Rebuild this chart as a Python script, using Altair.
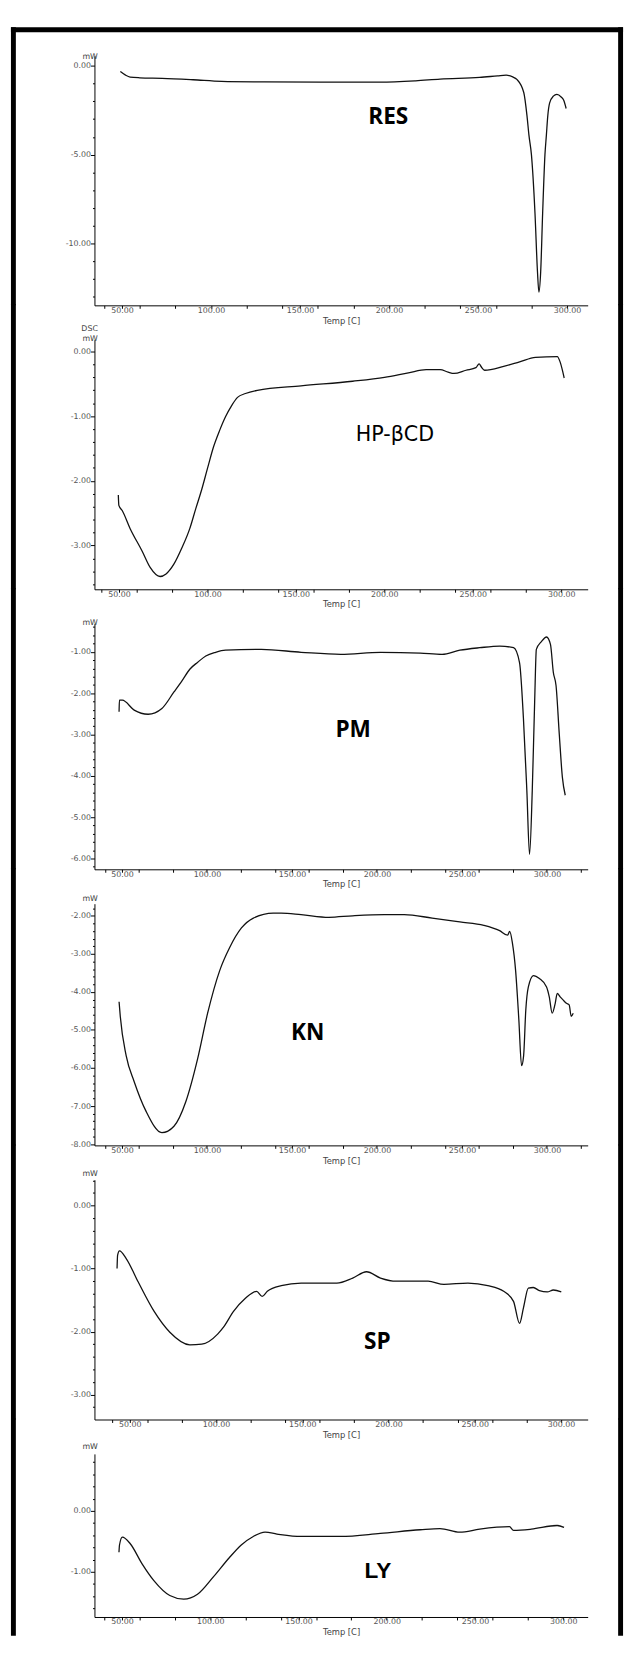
import math
import altair as alt
import pandas as pd

# ---------------- data ----------------
RES_T = [49.1, 52.0, 54.6, 60.0, 72.5, 90.0, 106.0, 130.0, 161.8, 195.1, 215.0, 228.7,
         250.9, 261.0, 265.8, 269.5, 271.8, 275.7, 277.5, 278.6, 280.0, 282.0, 283.4,
         284.2, 285.2, 286.3, 287.6, 288.4, 289.2, 290.2, 292.3, 294.3, 296.7, 298.2, 299.5]
RES_V = [-0.32, -0.52, -0.63, -0.67, -0.70, -0.78, -0.87, -0.90, -0.92, -0.92, -0.84, -0.74,
         -0.65, -0.56, -0.52, -0.62, -0.76, -1.50, -2.80, -3.90, -5.00, -8.30, -11.60,
         -12.75, -11.60, -8.30, -5.00, -3.90, -2.80, -2.10, -1.70, -1.60, -1.75, -1.95, -2.40]

HP_T = [49.6, 49.9, 51.8, 56.3, 63.1, 67.6, 73.2, 76.6, 81.0, 85.5, 90.0, 93.4, 96.8, 100.1,
        103.5, 106.9, 110.2, 113.6, 117.0, 121.5, 128.2, 152.9, 182.1, 200.1, 213.6, 223.7,
        231.6, 236.1, 239.4, 246.2, 251.8, 253.6, 254.9, 256.7, 267.5, 276.5, 285.5, 297.8,
        299.4, 300.8, 301.7]
HP_V = [-2.22, -2.38, -2.46, -2.74, -3.09, -3.34, -3.48, -3.44, -3.29, -3.04, -2.74, -2.43,
        -2.13, -1.80, -1.47, -1.22, -1.01, -0.84, -0.71, -0.65, -0.60, -0.53, -0.46, -0.40,
        -0.33, -0.28, -0.28, -0.32, -0.34, -0.29, -0.25, -0.19, -0.24, -0.29, -0.23, -0.16,
        -0.09, -0.08, -0.16, -0.30, -0.41]

PM_T = [48.3, 48.5, 50.2, 57.2, 65.4, 73.5, 80.6, 85.3, 89.9, 94.6, 99.3, 105.1, 110.9,
        132.0, 155.4, 178.7, 202.1, 225.5, 238.3, 248.8, 260.5, 272.3, 280.4, 283.9, 286.2,
        288.2, 289.8, 291.4, 292.8, 293.8, 296.8, 299.8, 302.1, 303.8, 305.4, 307.3, 309.1,
        310.8]
PM_V = [-2.45, -2.17, -2.17, -2.41, -2.51, -2.37, -1.97, -1.70, -1.42, -1.25, -1.10, -1.01,
        -0.96, -0.94, -1.01, -1.06, -1.01, -1.03, -1.06, -0.96, -0.90, -0.86, -0.90, -1.26,
        -2.61, -4.35, -5.90, -4.35, -2.21, -0.94, -0.75, -0.64, -0.82, -1.50, -1.82, -3.00,
        -4.03, -4.47]

KN_T = [48.3, 49.0, 52.5, 57.2, 64.2, 73.5, 80.6, 87.6, 94.5, 100.4, 107.5, 113.3, 120.3,
        127.3, 139.0, 143.7, 155.4, 171.7, 185.7, 204.3, 216.1, 232.5, 248.8, 262.9, 272.2,
        276.9, 278.1, 279.7, 281.6, 283.5, 285.1, 286.3, 287.6, 289.1, 292.1, 295.6, 299.8,
        301.4, 303.1, 304.9, 306.1, 307.8, 309.5, 311.5, 313.1, 314.3, 315.5]
KN_V = [-4.26, -4.64, -5.68, -6.36, -7.14, -7.70, -7.53, -6.88, -5.76, -4.56, -3.44, -2.84,
        -2.32, -2.06, -1.93, -1.93, -1.97, -2.04, -2.00, -1.97, -1.97, -2.06, -2.16, -2.25,
        -2.39, -2.51, -2.41, -2.71, -3.44, -4.73, -5.94, -5.68, -4.47, -3.87, -3.57, -3.65,
        -3.87, -4.13, -4.56, -4.30, -4.04, -4.13, -4.21, -4.30, -4.34, -4.64, -4.56]

SP_T = [42.6, 42.9, 44.0, 47.9, 54.8, 64.1, 73.2, 84.8, 91.7, 100.9, 104.3, 110.1, 117.0,
        123.5, 126.7, 129.7, 137.8, 149.3, 170.0, 179.2, 187.2, 195.3, 204.5, 222.9, 232.1,
        246.0, 257.5, 266.7, 272.4, 275.9, 278.2, 281.0, 283.9, 287.4, 292.0, 295.5, 300.1]
SP_V = [-1.00, -0.79, -0.72, -0.84, -1.21, -1.68, -2.01, -2.21, -2.20, -2.04, -1.93, -1.68,
        -1.47, -1.36, -1.44, -1.36, -1.27, -1.23, -1.23, -1.15, -1.05, -1.15, -1.20, -1.20,
        -1.25, -1.23, -1.27, -1.36, -1.52, -1.87, -1.62, -1.31, -1.30, -1.35, -1.37, -1.34,
        -1.37]

LY_T = [48.3, 48.6, 50.2, 54.7, 61.4, 68.2, 77.1, 85.0, 92.8, 101.9, 110.8, 117.6, 124.4,
        131.1, 137.8, 151.4, 173.9, 196.4, 219.0, 230.2, 241.4, 252.7, 269.6, 271.9, 282.0,
        296.6, 300.5]
LY_V = [-0.68, -0.56, -0.43, -0.54, -0.87, -1.15, -1.39, -1.45, -1.37, -1.08, -0.77, -0.56,
        -0.42, -0.35, -0.38, -0.42, -0.42, -0.37, -0.31, -0.29, -0.35, -0.30, -0.26, -0.32,
        -0.30, -0.24, -0.27]

NAMES = ["RES", "HP-\u03b2CD", "PM", "KN", "SP", "LY"]
SERIES = [(RES_T, RES_V), (HP_T, HP_V), (PM_T, PM_V), (KN_T, KN_V), (SP_T, SP_V), (LY_T, LY_V)]
LABEL_T = [199.6, 206.0, 186.0, 159.2, 193.5, 195.0]
LABEL_V = [-2.90, -1.30, -2.90, -5.09, -2.16, -0.99]

# ---------------- layout / style ----------------
W = 502
HEIGHTS = [254, 254, 250, 246, 244, 166]
XDOM = [(34.55, 311.6), (36.11, 315.0), (33.82, 324.0), (33.82, 324.0), (29.50, 315.4), (34.41, 313.9)]
YDOM = [(-13.49, 0.57), (-3.678, 0.182), (-6.262, -0.318), (-8.034, -1.682), (-3.396, 0.41), (-1.742, 0.935)]
YMAJOR = [5, 1, 1, 1, 1, 1]
YMINOR = [1, 0.2, 0.2, 0.2, 0.2, 0.2]
YTITLE = ["mW", ["DSC", "mW"], "mW", "mW", "mW", "mW"]
YTITLE_Y = [5, -7.5, 3, -1, -2, -3.5]
LABEL_STYLE = [
    dict(font="Open Sans", fontWeight="bold", fontSize=23),
    dict(font="DejaVu Sans", fontWeight="normal", fontSize=21),
    dict(font="Open Sans", fontWeight="bold", fontSize=23),
    dict(font="Open Sans", fontWeight="bold", fontSize=23),
    dict(font="Open Sans", fontWeight="bold", fontSize=23),
    dict(font="Liberation Sans", fontWeight="bold", fontSize=23),
]
SPACING = 35
FRAME_X_LEFT = -82.5
FRAME_X_RIGHT = 535.5
FRAME_W = 5

NUMFMT = "replace(format(datum.value, '.2f'), '\u2212', '-')"


def y_axis(i):
    lo, hi = YDOM[i]
    mn, mj = YMINOR[i], YMAJOR[i]
    k0 = math.ceil(lo / mn - 1e-9)
    k1 = math.floor(hi / mn + 1e-9)
    vals = [round(k * mn, 4) + 0.0 for k in range(k0, k1 + 1)]
    test = f"abs(datum.value/{mj} - round(datum.value/{mj})) < 0.001"
    return alt.Axis(
        values=vals, title=YTITLE[i], titleAngle=0, titleAlign="right",
        titleBaseline="bottom", titleX=3, titleY=YTITLE_Y[i], titleLineHeight=10,
        titleFontSize=8, titleFontWeight="normal", titleColor="#444", titleFont="DejaVu Sans",
        labelExpr=f"{test} ? {NUMFMT} : ''", labelOverlap=False, labelFlush=False,
        labelPadding=0, labelFontSize=8, labelColor="#555", labelFont="DejaVu Sans",
        tickSize={"condition": {"test": test, "value": 4}, "value": 2},
        tickColor="black", domainColor="black", domainWidth=1, grid=False,
    )


def x_axis(i):
    lo, hi = XDOM[i]
    vals = sorted(set(list(range(20, 340, 20)) + list(range(50, 350, 50))))
    vals = [v for v in vals if lo <= v <= hi]
    test = "datum.value % 50 === 0"
    return alt.Axis(
        values=vals, title="Temp [C]", titleFontSize=8.5, titleFontWeight="normal",
        titleColor="#444", titleFont="DejaVu Sans", titlePadding=2,
        labelExpr=f"{test} ? {NUMFMT} : ''", labelOverlap=False, labelFlush=False,
        labelPadding=-2, labelFontSize=8, labelColor="#555", labelFont="DejaVu Sans",
        tickSize=3, tickColor="black", domainColor="black", domainWidth=1, grid=False,
    )


def frame_rule(**enc):
    return alt.Chart(pd.DataFrame({"k": [0]})).mark_rule(
        color="black", strokeWidth=FRAME_W).encode(**enc)


panels = []
n = len(NAMES)
for i in range(n):
    T, V = SERIES[i]
    h = HEIGHTS[i]
    df = pd.DataFrame({"T": T, "V": V})
    xs = alt.Scale(domain=list(XDOM[i]), nice=False, zero=False)
    ys = alt.Scale(domain=list(YDOM[i]), nice=False, zero=False)
    xa, ya = x_axis(i), y_axis(i)
    line = alt.Chart(df).mark_line(color="#111", strokeWidth=1.3, interpolate="monotone").encode(
        x=alt.X("T:Q", scale=xs, axis=xa),
        y=alt.Y("V:Q", scale=ys, axis=ya),
    )
    lab = alt.Chart(pd.DataFrame({"T": [LABEL_T[i]], "V": [LABEL_V[i]], "name": [NAMES[i]]})).mark_text(
        align="center", baseline="middle", color="black", **LABEL_STYLE[i]
    ).encode(
        x=alt.X("T:Q", scale=xs, axis=xa),
        y=alt.Y("V:Q", scale=ys, axis=ya),
        text="name:N",
    )
    top = -29 if i == 0 else -(SPACING + 1)
    bottom = h + 19 if i == n - 1 else h
    layers = [line, lab,
              frame_rule(x=alt.value(FRAME_X_LEFT), y=alt.value(top), y2=alt.value(bottom)),
              frame_rule(x=alt.value(FRAME_X_RIGHT), y=alt.value(top), y2=alt.value(bottom))]
    if i == 0:
        layers.append(frame_rule(x=alt.value(FRAME_X_LEFT - FRAME_W / 2),
                                 x2=alt.value(FRAME_X_RIGHT + FRAME_W / 2),
                                 y=alt.value(-26.5)))
    panels.append(alt.layer(*layers).properties(width=W, height=h))

chart = alt.VConcatChart(vconcat=panels, spacing=SPACING, bounds="flush").properties(
    padding={"top": 2, "left": 0, "right": 0, "bottom": 0},
    background="white",
).configure_view(stroke=None)

chart.save("out.html", embed_options={"renderer": "svg", "actions": False})
